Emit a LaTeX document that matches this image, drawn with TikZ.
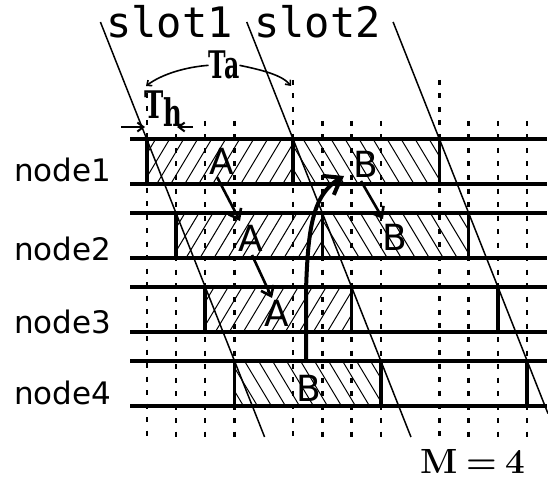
\documentclass[tikz,border=0pt]{standalone}
\usepackage{fontspec}
\newfontfamily\labfont{DejaVu Sans}
\newfontfamily\slotfont{DejaVu Sans Mono}
\newfontfamily\serfont{DejaVu Serif}
\usetikzlibrary{arrows.meta}
\newcommand\hatchfw[3]{% "/" hatch: x0, x1, ytop
  \begin{scope}
    \clip (#1,#3) rectangle (#2,#3+45);
    \foreach \s in {-32,-18,...,160}{\draw[hatchline] (#1+\s,#3+45) -- ++(27,-45);}
  \end{scope}}
\newcommand\hatchbw[3]{% "\" hatch: x0, x1, ytop
  \begin{scope}
    \clip (#1,#3) rectangle (#2,#3+45);
    \foreach \s in {-32,-18,...,160}{\draw[hatchline] (#1+\s,#3) -- ++(27,45);}
  \end{scope}}
\begin{document}
\begin{tikzpicture}[x=1pt,y=-1pt,
  rowline/.style={line width=3.6pt},
  boxedge/.style={line width=3.6pt},
  slant/.style={line width=1.5pt},
  hatchline/.style={line width=1pt},
  dotcol/.style={line width=2.4pt, dash pattern=on 5pt off 8.5pt},
  smallarrow/.style={line width=2.6pt, -{Straight Barb[length=9pt,width=14pt]}},
  bigarrow/.style={line width=4pt, -{Straight Barb[length=15pt,width=22pt]}},
  tiparc/.style={line width=1.6pt, -{Straight Barb[length=4pt,width=7pt]}},
  rowlabel/.style={font=\labfont\fontsize{31}{31}\selectfont, anchor=base west, inner sep=0},
  letter/.style={font=\labfont\fontsize{36}{36}\selectfont, inner sep=0},
  slotlabel/.style={font=\slotfont\fontsize{42}{42}\selectfont, anchor=base west, inner sep=0},
  boldlabel/.style={font=\serfont\bfseries\fontsize{38}{38}\selectfont, inner sep=0},
  mlabel/.style={font=\bfseries\fontsize{35}{35}\selectfont, anchor=base west, inner sep=0},
]
\useasboundingbox (0,0) rectangle (548,481);

% hatched regions
\hatchfw{146.7}{293.05}{139}
\hatchbw{293.05}{439.4}{139}
\hatchfw{175.97}{322.32}{213}
\hatchbw{322.32}{468.67}{213}
\hatchfw{205.24}{351.59}{287}
\hatchbw{234.51}{380.86}{361}

% dotted columns
\draw[dotcol] (146.7,93) -- (146.7,441);
\foreach \k in {1,2,3,6,7,8,11,12,13}{
  \draw[dotcol] (146.7+29.27*\k,121) -- (146.7+29.27*\k,441);}
\foreach \k in {5,10}{
  \draw[dotcol] (146.7+29.27*\k,80) -- (146.7+29.27*\k,441);}

% slanted slot lines
\draw[slant] (100.4,22) -- (264.6,437);
\draw[slant] (246.75,22) -- (410.95,437);
\draw[slant] (393.1,22) -- (548,413.6);

% row lines
\foreach \t in {139,213,287,361}{
  \draw[rowline] (130,\t) -- (547,\t);
  \draw[rowline] (130,\t+45) -- (547,\t+45);}

% box edges
\foreach \x/\t in {146.7/139,293.05/139,439.4/139,
                   175.97/213,322.32/213,468.67/213,
                   205.24/287,351.59/287,497.94/287,
                   234.51/361,380.86/361,527.21/361}{
  \draw[boxedge] (\x,\t) -- (\x,\t+45);}

% labels
\node[rowlabel] (n1) at (14,182) {node1};
\node[rowlabel] (n2) at (14,260) {node2};
\node[rowlabel] (n3) at (14,333) {node3};
\node[rowlabel] (n4) at (14,404) {node4};
\node[slotlabel] (s1) at (106,38) {slot1};
\node[slotlabel] (s2) at (254,38) {slot2};

\node[letter] (A1) at (222,161) {A};
\node[letter] (A2) at (251,238) {A};
\node[letter] (A3) at (277,313) {A};
\node[letter] (B1) at (366,164) {B};
\node[letter] (B2) at (395,237) {B};
\node[letter] (B4) at (309,388) {B};

\node[boldlabel, anchor=north] (Ta) at (224,51) {\scalebox{0.62}[1]{Ta}};
\node[boldlabel, anchor=north west] (Th) at (144,91) {\scalebox{0.68}[1]{T\raisebox{-8pt}{h}}};
\node[mlabel] (Mlab) at (420,473) {M\hspace{0.25em}=\hspace{0.25em}4};

% Ta and Th markers
\coordinate (taL) at (146,86);
\coordinate (taR) at (291,86);
\draw[tiparc] (Ta.west) .. controls (186,67) and (162,74) .. (taL);
\draw[tiparc] (Ta.east) .. controls (262,70) and (282,75) .. (taR);
\coordinate (thL0) at (121,127);
\coordinate (thL1) at (145,127);
\coordinate (thR0) at (193,127);
\coordinate (thR1) at (177,127);
\draw[line width=2pt, -{Straight Barb[length=6pt,width=9pt]}] (thL0) -- (thL1);
\draw[line width=2pt, -{Straight Barb[length=6pt,width=9pt]}] (thR0) -- (thR1);

% propagation arrows
\coordinate (a12s) at (217,177);
\coordinate (a12e) at (240,221);
\coordinate (a23s) at (252,255);
\coordinate (a23e) at (272,298);
\coordinate (b12s) at (361,181);
\coordinate (b12e) at (383,219);
\draw[smallarrow] (a12s) -- (a12e);
\draw[smallarrow] (a23s) -- (a23e);
\draw[smallarrow] (b12s) -- (b12e);

\coordinate (up0) at (306,361);
\coordinate (up1) at (306,290);
\coordinate (upEnd) at (344,176);
\draw[bigarrow] (up0) -- (up1) .. controls (308,230) and (312,195) .. (upEnd);
\end{tikzpicture}
\end{document}
